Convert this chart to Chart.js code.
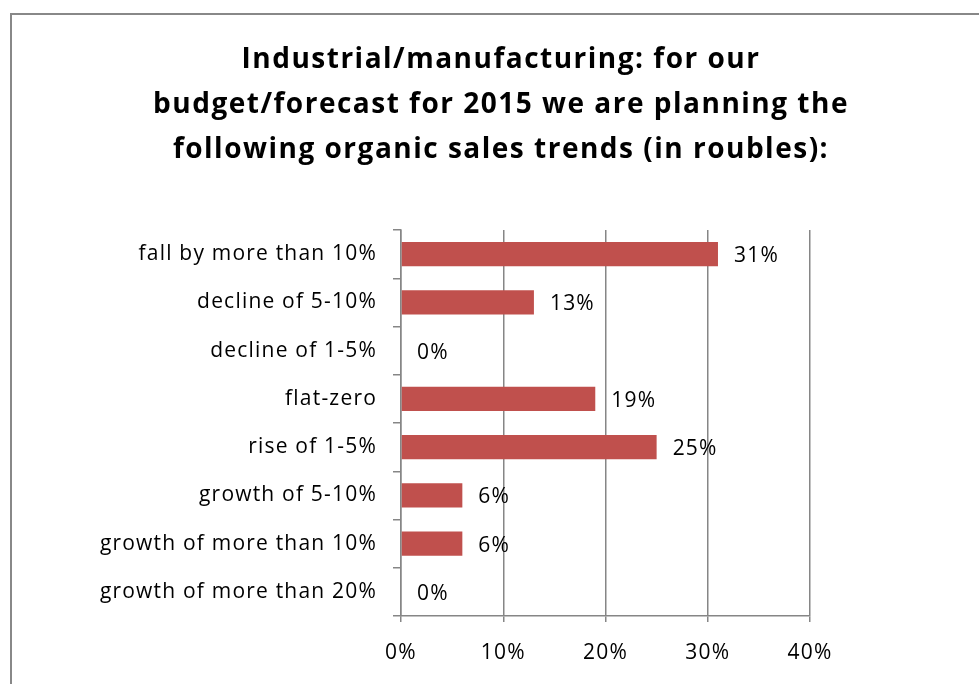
<!DOCTYPE html>
<html>
<head>
<meta charset="utf-8">
<script src="https://cdn.jsdelivr.net/npm/chart.js@4/dist/chart.umd.min.js"></script>
<style>
  html, body { margin: 0; padding: 0; background: #ffffff; }
  #wrap { position: relative; width: 979px; height: 684px; }
</style>
</head>
<body>
<div id="wrap"><canvas id="chart" width="979" height="684"></canvas></div>
<script>
// Survey answers, Industrial/manufacturing, 2015 budget
const titleLines = [
  'Industrial/manufacturing: for our',
  'budget/forecast for 2015 we are planning the',
  'following organic sales trends (in roubles):'
];
const categories = [
  'fall by more than 10%',
  'decline of 5-10%',
  'decline of 1-5%',
  'flat-zero',
  'rise of 1-5%',
  'growth of 5-10%',
  'growth of more than 10%',
  'growth of more than 20%'
];
const shares = [31, 13, 0, 19, 25, 6, 6, 0];
const axisTicks = [0, 10, 20, 30, 40];

const FONT = "'Open Sans', Lato, sans-serif";
const GRID = '#868686';

// Slightly airy lettering for every text on the canvas
const spacing = {
  id: 'spacing',
  beforeUpdate(chart) { chart.ctx.letterSpacing = '1.2px'; },
  beforeDraw(chart) { chart.ctx.letterSpacing = '1.2px'; }
};

// Outer frame of the chart object and the three-line heading above the plot
const framePlugin = {
  id: 'frame',
  beforeDraw(chart) {
    const ctx = chart.ctx;
    ctx.save();
    ctx.strokeStyle = '#888888';
    ctx.lineWidth = 2;
    ctx.strokeRect(11, 14, 1200, 1200);
    ctx.fillStyle = '#000000';
    ctx.font = 'bold 28px ' + FONT;
    ctx.letterSpacing = '1.5px';
    ctx.textAlign = 'center';
    ctx.textBaseline = 'alphabetic';
    const baselines = [68, 113, 158];
    titleLines.forEach((line, i) => ctx.fillText(line, 501, baselines[i]));
    ctx.restore();
  }
};

// Percent labels just past the end of each bar
const valueLabels = {
  id: 'valueLabels',
  afterDatasetsDraw(chart) {
    const ctx = chart.ctx;
    const meta = chart.getDatasetMeta(0);
    ctx.save();
    ctx.font = '21px ' + FONT;
    ctx.fillStyle = '#000000';
    ctx.textAlign = 'left';
    ctx.textBaseline = 'middle';
    meta.data.forEach((bar, i) => {
      ctx.fillText(shares[i] + '%', bar.x + 16, bar.y + 2);
    });
    ctx.restore();
  }
};

new Chart(document.getElementById('chart'), {
  type: 'bar',
  data: {
    labels: categories,
    datasets: [{
      data: shares,
      backgroundColor: '#C0504D',
      borderWidth: 0,
      categoryPercentage: 1.0,
      barPercentage: 0.5
    }]
  },
  options: {
    indexAxis: 'y',
    responsive: false,
    animation: false,
    devicePixelRatio: 1,
    layout: { padding: { left: 0, right: 169, top: 230, bottom: 0 } },
    plugins: {
      legend: { display: false },
      tooltip: { enabled: false },
      title: { display: false }
    },
    scales: {
      x: {
        min: 0,
        max: 40,
        afterBuildTicks(scale) {
          scale.ticks = axisTicks.map(v => ({ value: v }));
        },
        afterFit(scale) { scale.height = 68; },
        grid: {
          color: GRID,
          lineWidth: 1.5,
          drawTicks: true,
          tickLength: 6,
          tickColor: GRID
        },
        border: { color: GRID, width: 1.5 },
        ticks: {
          color: '#000000',
          font: { family: FONT, size: 21 },
          padding: 18,
          callback: v => v + '%'
        }
      },
      y: {
        afterFit(scale) { scale.width = 401; },
        grid: {
          offset: true,
          drawOnChartArea: false,
          drawTicks: true,
          tickLength: 8,
          tickColor: GRID,
          lineWidth: 1.5
        },
        border: { color: GRID, width: 1.5 },
        ticks: {
          color: '#000000',
          font: { family: FONT, size: 21 },
          padding: 16
        }
      }
    }
  },
  plugins: [spacing, framePlugin, valueLabels]
});
</script>
</body>
</html>
